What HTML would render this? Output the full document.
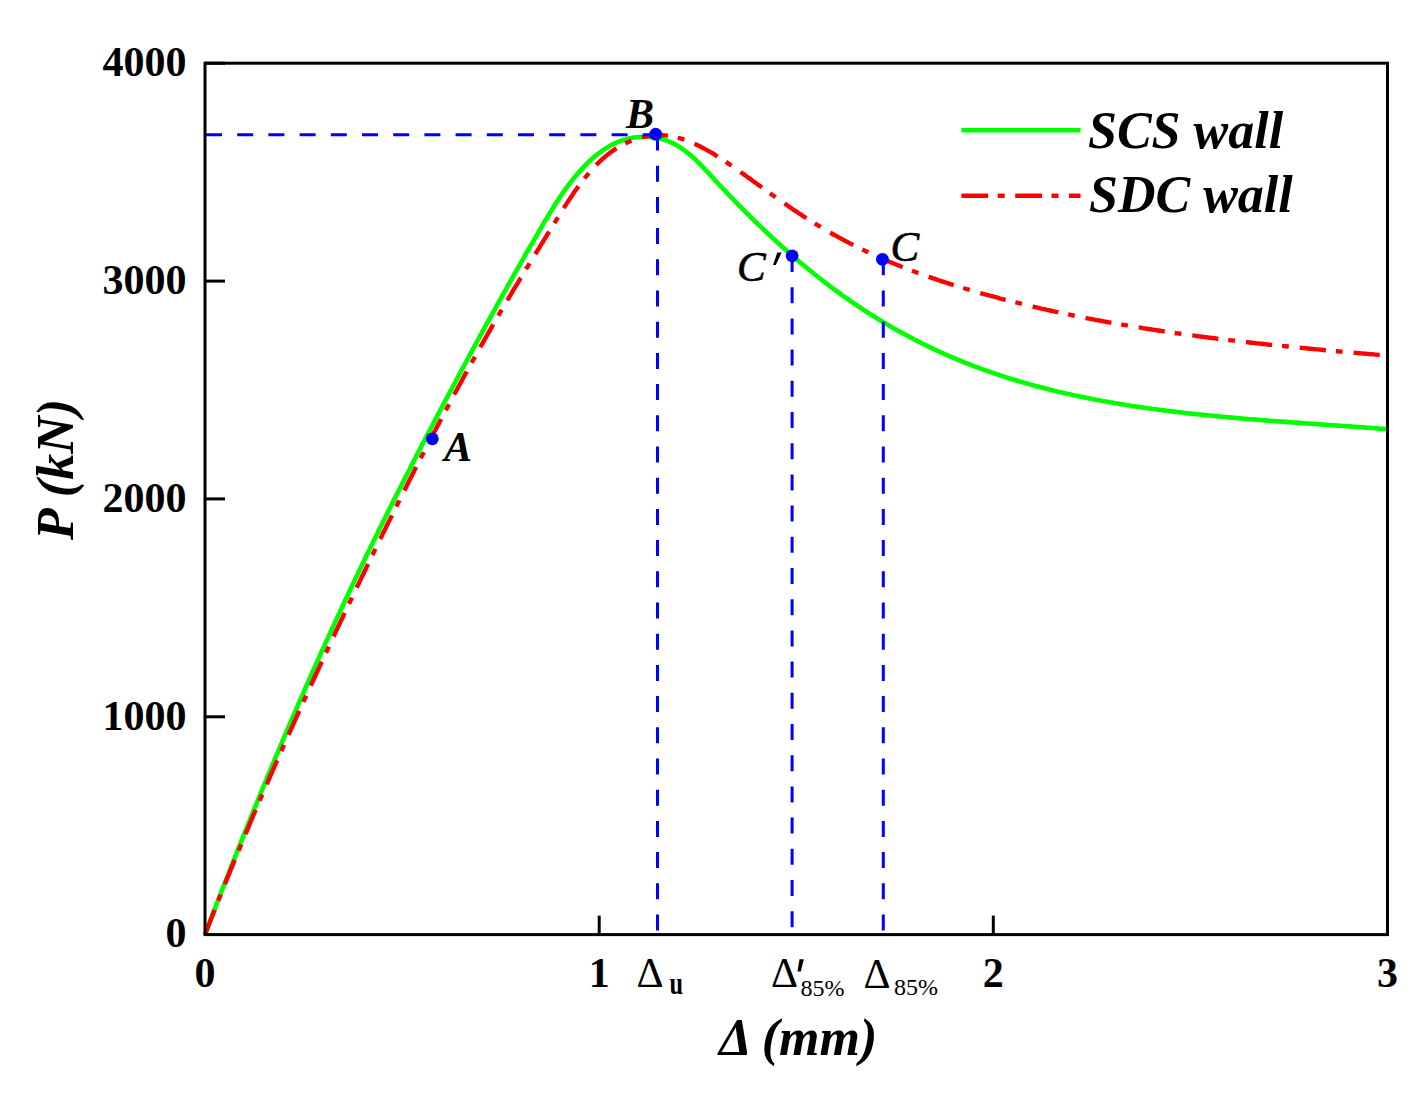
<!DOCTYPE html>
<html><head><meta charset="utf-8"><style>
html,body{margin:0;padding:0;background:#fff;}
svg{display:block;}
text{font-family:"Liberation Serif",serif;}
</style></head><body>
<svg width="1420" height="1094" viewBox="0 0 1420 1094">
<rect width="1420" height="1094" fill="#fff"/>

<path d="M205.0,934.5L205.7,932.6 206.4,930.8 207.1,928.9 207.8,927.0 208.6,925.1 209.3,923.3 210.0,921.4 210.7,919.5 211.4,917.6 212.1,915.8 212.9,913.9 213.6,912.0 214.3,910.1 215.0,908.3 215.7,906.4 216.5,904.5 217.2,902.7 217.9,900.8 218.6,898.9 219.3,897.1 220.1,895.2 220.8,893.3 221.5,891.4 222.2,889.6 223.0,887.7 223.7,885.8 224.4,884.0 225.2,882.1 225.9,880.2 226.6,878.4 227.3,876.5 228.1,874.6 228.8,872.8 229.5,870.9 230.3,869.0 231.0,867.2 231.7,865.3 232.5,863.4 233.2,861.6 233.9,859.7 234.7,857.8 235.4,856.0 236.2,854.1 236.9,852.3 237.6,850.4 238.4,848.5 239.1,846.7 239.9,844.8 240.6,842.9 241.3,841.1 242.1,839.2 242.8,837.4 243.6,835.5 244.3,833.6 245.1,831.8 245.8,829.9 246.6,828.1 247.3,826.2 248.1,824.3 248.8,822.5 249.6,820.6 250.3,818.8 251.1,816.9 251.8,815.1 252.6,813.2 253.3,811.3 254.1,809.5 254.8,807.6 255.6,805.8 256.4,803.9 257.1,802.1 257.9,800.2 258.6,798.3 259.4,796.5 260.2,794.6 260.9,792.8 261.7,790.9 262.4,789.1 263.2,787.2 264.0,785.4 264.7,783.5 265.5,781.7 266.3,779.8 267.0,778.0 267.8,776.1 268.6,774.3 269.3,772.4 270.1,770.6 270.9,768.7 271.7,766.9 272.4,765.0 273.2,763.2 274.0,761.3 274.8,759.5 275.5,757.6 276.3,755.8 277.1,753.9 277.9,752.1 278.6,750.2 279.4,748.4 280.2,746.6 281.0,744.7 281.8,742.9 282.6,741.0 283.3,739.2 284.1,737.3 284.9,735.5 285.7,733.6 286.5,731.8 287.3,730.0 288.1,728.1 288.9,726.3 289.6,724.4 290.4,722.6 291.2,720.8 292.0,718.9 292.8,717.1 293.6,715.2 294.4,713.4 295.2,711.6 296.0,709.7 296.8,707.9 297.6,706.0 298.4,704.2 299.2,702.4 300.0,700.5 300.8,698.7 301.6,696.9 302.4,695.0 303.2,693.2 304.0,691.4 304.8,689.5 305.6,687.7 306.4,685.8 307.2,684.0 308.1,682.2 308.9,680.3 309.7,678.5 310.5,676.7 311.3,674.9 312.1,673.0 312.9,671.2 313.7,669.4 314.6,667.5 315.4,665.7 316.2,663.9 317.0,662.0 317.8,660.2 318.7,658.4 319.5,656.6 320.3,654.7 321.1,652.9 321.9,651.1 322.8,649.3 323.6,647.4 324.4,645.6 325.2,643.8 326.1,641.9 326.9,640.1 327.7,638.3 328.6,636.5 329.4,634.7 330.2,632.8 331.1,631.0 331.9,629.2 332.7,627.4 333.6,625.5 334.4,623.7 335.2,621.9 336.1,620.1 336.9,618.3 337.8,616.4 338.6,614.6 339.5,612.8 340.3,611.0 341.1,609.2 342.0,607.4 342.8,605.5 343.7,603.7 344.5,601.9 345.4,600.1 346.2,598.3 347.1,596.5 347.9,594.6 348.8,592.8 349.6,591.0 350.5,589.2 351.4,587.4 352.2,585.6 353.1,583.8 353.9,582.0 354.8,580.1 355.6,578.3 356.5,576.5 357.4,574.7 358.2,572.9 359.1,571.1 360.0,569.3 360.8,567.5 361.7,565.7 362.6,563.9 363.4,562.1 364.3,560.2 365.2,558.4 366.0,556.6 366.9,554.8 367.8,553.0 368.7,551.2 369.5,549.4 370.4,547.6 371.3,545.8 372.2,544.0 373.1,542.2 373.9,540.4 374.8,538.6 375.7,536.8 376.6,535.0 377.5,533.2 378.4,531.4 379.2,529.6 380.1,527.8 381.0,526.0 381.9,524.2 382.8,522.4 383.7,520.6 384.6,518.8 385.5,517.0 386.4,515.2 387.3,513.4 388.1,511.6 389.0,509.8 389.9,508.0 390.8,506.3 391.7,504.5 392.6,502.7 393.5,500.9 394.4,499.1 395.3,497.3 396.2,495.5 397.1,493.7 398.0,491.9 399.0,490.1 399.9,488.3 400.8,486.6 401.7,484.8 402.6,483.0 403.5,481.2 404.4,479.4 405.3,477.6 406.2,475.8 407.1,474.0 408.0,472.3 409.0,470.5 409.9,468.7 410.8,466.9 411.7,465.1 412.6,463.3 413.5,461.5 414.5,459.8 415.4,458.0 416.3,456.2 417.2,454.4 418.1,452.6 419.0,450.9 420.0,449.1 420.9,447.3 421.8,445.5 422.7,443.7 423.7,442.0 424.6,440.2 425.5,438.4 426.4,436.6 427.4,434.8 428.3,433.1 429.2,431.3 430.2,429.5 431.1,427.7 432.0,426.0 432.9,424.2 433.9,422.4 434.8,420.6 435.7,418.9 436.7,417.1 437.6,415.3 438.5,413.5 439.5,411.8 440.4,410.0 441.3,408.2 442.3,406.4 443.2,404.7 444.2,402.9 445.1,401.1 446.0,399.4 447.0,397.6 447.9,395.8 448.8,394.1 449.8,392.3 450.7,390.5 451.7,388.8 452.6,387.0 453.6,385.2 454.5,383.5 455.4,381.7 456.4,379.9 457.3,378.2 458.3,376.4 459.2,374.6 460.2,372.9 461.1,371.1 462.1,369.3 463.0,367.6 464.0,365.8 464.9,364.0 465.9,362.3 466.8,360.5 467.8,358.8 468.7,357.0 469.7,355.2 470.6,353.5 471.6,351.7 472.5,350.0 473.5,348.2 474.4,346.4 475.4,344.7 476.3,342.9 477.3,341.2 478.2,339.4 479.2,337.7 480.1,335.9 481.1,334.1 482.1,332.4 483.0,330.6 484.0,328.9 484.9,327.1 485.9,325.4 486.9,323.6 487.8,321.9 488.8,320.1 489.8,318.3 490.7,316.6 491.7,314.8 492.7,313.1 493.6,311.3 494.6,309.6 495.6,307.8 496.5,306.1 497.5,304.3 498.5,302.6 499.4,300.8 500.4,299.1 501.4,297.3 502.4,295.6 503.3,293.8 504.3,292.1 505.3,290.3 506.3,288.6 507.3,286.8 508.2,285.1 509.2,283.4 510.2,281.6 511.2,279.9 512.2,278.1 513.2,276.4 514.1,274.6 515.1,272.9 516.1,271.1 517.1,269.4 518.1,267.7 519.1,265.9 520.1,264.2 521.1,262.4 522.1,260.7 523.1,258.9 524.1,257.2 525.0,255.5 526.0,253.7 527.0,252.0 528.0,250.2 529.0,248.5 530.0,246.8 531.1,245.0 532.1,243.3 533.1,241.5 534.1,239.8 535.1,238.1 536.1,236.3 537.1,234.6 538.1,232.9 539.1,231.1 540.1,229.4 541.2,227.6 542.2,225.9 543.2,224.2 544.2,222.4 545.2,220.7 546.3,219.0 547.3,217.3 548.3,215.5 549.4,213.8 550.4,212.1 551.5,210.4 552.5,208.7 553.6,207.0 554.6,205.3 555.7,203.6 556.8,201.9 557.9,200.2 559.0,198.5 560.1,196.8 561.3,195.2 562.4,193.5 563.5,191.9 564.7,190.2 565.9,188.6 567.0,187.0 568.2,185.4 569.5,183.8 570.7,182.2 571.9,180.6 573.2,179.0 574.4,177.5 575.7,175.9 577.0,174.4 578.3,172.9 579.7,171.4 581.0,169.9 582.4,168.4 583.8,166.9 585.2,165.5 586.6,164.0 588.1,162.6 589.5,161.2 591.0,159.8 592.5,158.5 594.1,157.1 595.6,155.8 597.2,154.5 598.8,153.3 600.4,152.0 602.1,150.9 603.7,149.7 605.4,148.6 607.1,147.5 608.8,146.5 610.6,145.5 612.3,144.6 614.1,143.7 615.9,142.8 617.8,142.0 619.6,141.3 621.5,140.6 623.4,140.0 625.3,139.4 627.2,138.9 629.2,138.4 631.1,138.0 633.1,137.7 635.0,137.4 637.0,137.2 639.0,137.0 641.0,136.9 642.9,136.8 644.9,136.8 646.9,136.8 648.9,136.9 650.8,137.1 652.8,137.3 654.7,137.6 656.7,137.9 658.6,138.3 660.5,138.7 662.4,139.2 664.2,139.8 666.1,140.4 667.9,141.1 669.7,141.8 671.5,142.6 673.2,143.4 674.9,144.3 676.6,145.3 678.3,146.3 679.9,147.3 681.6,148.4 683.2,149.5 684.8,150.7 686.3,151.9 687.9,153.1 689.4,154.4 691.0,155.7 692.5,157.0 694.0,158.3 695.5,159.7 696.9,161.1 698.4,162.5 699.8,164.0 701.3,165.4 702.7,166.9 704.1,168.4 705.6,169.9 707.0,171.4 708.4,172.9 709.8,174.4 711.2,175.9 712.6,177.5 714.0,179.0 715.3,180.5 716.7,182.0 718.1,183.5 719.5,185.0 720.9,186.5 722.3,188.0 723.7,189.4 725.1,190.9 726.5,192.4 727.8,193.8 729.2,195.3 730.6,196.7 732.0,198.2 733.4,199.6 734.8,201.0 736.2,202.5 737.6,203.9 739.0,205.3 740.4,206.7 741.8,208.2 743.2,209.6 744.6,211.0 746.0,212.4 747.4,213.8 748.9,215.2 750.3,216.6 751.7,218.0 753.1,219.4 754.5,220.8 756.0,222.2 757.4,223.6 758.8,224.9 760.3,226.3 761.7,227.7 763.1,229.1 764.6,230.4 766.0,231.8 767.5,233.2 768.9,234.5 770.4,235.9 771.8,237.3 773.3,238.6 774.8,240.0 776.2,241.3 777.7,242.6 779.2,244.0 780.7,245.3 782.1,246.7 783.6,248.0 785.1,249.3 786.6,250.6 788.1,252.0 789.6,253.3 791.1,254.6 792.6,255.9 794.1,257.2 795.6,258.5 797.1,259.8 798.6,261.1 800.2,262.4 801.7,263.7 803.2,264.9 804.8,266.2 806.3,267.5 807.8,268.8 809.4,270.0 810.9,271.3 812.5,272.5 814.0,273.8 815.6,275.0 817.2,276.3 818.7,277.5 820.3,278.8 821.9,280.0 823.4,281.2 825.0,282.4 826.6,283.7 828.2,284.9 829.8,286.1 831.4,287.3 833.0,288.5 834.6,289.7 836.2,290.9 837.9,292.0 839.5,293.2 841.1,294.4 842.7,295.6 844.4,296.7 846.0,297.9 847.7,299.0 849.3,300.2 851.0,301.3 852.6,302.5 854.3,303.6 856.0,304.7 857.6,305.9 859.3,307.0 861.0,308.1 862.7,309.2 864.4,310.3 866.0,311.4 867.7,312.5 869.4,313.6 871.1,314.7 872.8,315.7 874.6,316.8 876.3,317.9 878.0,318.9 879.7,320.0 881.4,321.0 883.2,322.1 884.9,323.1 886.6,324.1 888.4,325.1 890.1,326.2 891.9,327.2 893.6,328.2 895.4,329.2 897.1,330.2 898.9,331.1 900.6,332.1 902.4,333.1 904.2,334.1 905.9,335.0 907.7,336.0 909.5,336.9 911.3,337.9 913.1,338.8 914.8,339.7 916.6,340.6 918.4,341.6 920.2,342.5 922.0,343.4 923.8,344.3 925.6,345.2 927.4,346.0 929.2,346.9 931.0,347.8 932.9,348.6 934.7,349.5 936.5,350.3 938.3,351.2 940.1,352.0 942.0,352.8 943.8,353.7 945.6,354.5 947.5,355.3 949.3,356.1 951.1,356.9 953.0,357.6 954.8,358.4 956.6,359.2 958.5,360.0 960.3,360.7 962.2,361.5 964.0,362.2 965.9,363.0 967.8,363.7 969.6,364.4 971.5,365.1 973.3,365.8 975.2,366.6 977.1,367.3 978.9,367.9 980.8,368.6 982.7,369.3 984.6,370.0 986.4,370.7 988.3,371.3 990.2,372.0 992.1,372.6 994.0,373.3 995.8,373.9 997.7,374.5 999.6,375.2 1001.5,375.8 1003.4,376.4 1005.3,377.0 1007.2,377.6 1009.1,378.2 1011.0,378.8 1012.9,379.4 1014.8,380.0 1016.7,380.5 1018.6,381.1 1020.5,381.7 1022.5,382.2 1024.4,382.8 1026.3,383.3 1028.2,383.9 1030.1,384.4 1032.0,384.9 1034.0,385.5 1035.9,386.0 1037.8,386.5 1039.7,387.0 1041.7,387.5 1043.6,388.0 1045.5,388.5 1047.5,389.0 1049.4,389.5 1051.3,390.0 1053.3,390.5 1055.2,390.9 1057.1,391.4 1059.1,391.9 1061.0,392.3 1063.0,392.8 1064.9,393.2 1066.9,393.7 1068.8,394.1 1070.8,394.5 1072.7,395.0 1074.7,395.4 1076.6,395.8 1078.6,396.2 1080.5,396.6 1082.5,397.0 1084.4,397.4 1086.4,397.8 1088.4,398.2 1090.3,398.6 1092.3,399.0 1094.3,399.4 1096.2,399.8 1098.2,400.1 1100.2,400.5 1102.1,400.9 1104.1,401.2 1106.1,401.6 1108.0,401.9 1110.0,402.3 1112.0,402.6 1114.0,403.0 1115.9,403.3 1117.9,403.6 1119.9,404.0 1121.9,404.3 1123.8,404.6 1125.8,404.9 1127.8,405.2 1129.8,405.6 1131.8,405.9 1133.8,406.2 1135.7,406.5 1137.7,406.8 1139.7,407.1 1141.7,407.4 1143.7,407.6 1145.7,407.9 1147.7,408.2 1149.7,408.5 1151.7,408.8 1153.6,409.0 1155.6,409.3 1157.6,409.6 1159.6,409.8 1161.6,410.1 1163.6,410.4 1165.6,410.6 1167.6,410.9 1169.6,411.1 1171.6,411.4 1173.6,411.6 1175.6,411.8 1177.6,412.1 1179.6,412.3 1181.6,412.5 1183.6,412.8 1185.6,413.0 1187.6,413.2 1189.6,413.4 1191.6,413.7 1193.6,413.9 1195.6,414.1 1197.6,414.3 1199.6,414.5 1201.6,414.7 1203.6,414.9 1205.6,415.1 1207.6,415.3 1209.6,415.5 1211.7,415.7 1213.7,415.9 1215.7,416.1 1217.7,416.3 1219.7,416.5 1221.7,416.7 1223.7,416.9 1225.7,417.1 1227.7,417.3 1229.7,417.4 1231.7,417.6 1233.7,417.8 1235.7,418.0 1237.7,418.1 1239.8,418.3 1241.8,418.5 1243.8,418.7 1245.8,418.8 1247.8,419.0 1249.8,419.2 1251.8,419.3 1253.8,419.5 1255.8,419.6 1257.8,419.8 1259.8,420.0 1261.8,420.1 1263.9,420.3 1265.9,420.4 1267.9,420.6 1269.9,420.7 1271.9,420.9 1273.9,421.0 1275.9,421.2 1277.9,421.3 1279.9,421.5 1281.9,421.6 1283.9,421.8 1285.9,421.9 1287.9,422.1 1289.9,422.2 1291.9,422.4 1293.9,422.5 1296.0,422.6 1298.0,422.8 1300.0,422.9 1302.0,423.1 1304.0,423.2 1306.0,423.4 1308.0,423.5 1310.0,423.6 1312.0,423.8 1314.0,423.9 1316.0,424.0 1318.0,424.2 1320.0,424.3 1322.0,424.5 1324.0,424.6 1326.0,424.7 1328.0,424.9 1330.0,425.0 1331.9,425.2 1333.9,425.3 1335.9,425.4 1337.9,425.6 1339.9,425.7 1341.9,425.9 1343.9,426.0 1345.9,426.1 1347.9,426.3 1349.9,426.4 1351.9,426.6 1353.8,426.7 1355.8,426.8 1357.8,427.0 1359.8,427.1 1361.8,427.3 1363.8,427.4 1365.8,427.6 1367.7,427.7 1369.7,427.8 1371.7,428.0 1373.7,428.1 1375.7,428.3 1377.6,428.4 1379.6,428.6 1381.6,428.7 1383.6,428.9 1385.5,429.0 1387.5,429.2" fill="none" stroke="#00ff00" stroke-width="4.6"/>
<path d="M205.0,934.5L205.7,932.6 206.4,930.8 207.2,928.9 207.9,927.0 208.6,925.2 209.4,923.3 210.1,921.4 210.8,919.6 211.5,917.7 212.3,915.8 213.0,914.0 213.7,912.1 214.5,910.2 215.2,908.4 216.0,906.5 216.7,904.7 217.4,902.8 218.2,900.9 218.9,899.1 219.7,897.2 220.4,895.4 221.1,893.5 221.9,891.6 222.6,889.8 223.4,887.9 224.1,886.1 224.9,884.2 225.6,882.3 226.4,880.5 227.1,878.6 227.9,876.8 228.6,874.9 229.4,873.1 230.1,871.2 230.9,869.3 231.7,867.5 232.4,865.6 233.2,863.8 233.9,861.9 234.7,860.1 235.5,858.2 236.2,856.4 237.0,854.5 237.8,852.7 238.5,850.8 239.3,849.0 240.1,847.1 240.8,845.3 241.6,843.4 242.4,841.6 243.1,839.7 243.9,837.9 244.7,836.0 245.5,834.2 246.2,832.3 247.0,830.5 247.8,828.6 248.6,826.8 249.3,824.9 250.1,823.1 250.9,821.2 251.7,819.4 252.5,817.5 253.2,815.7 254.0,813.9 254.8,812.0 255.6,810.2 256.4,808.3 257.2,806.5 258.0,804.6 258.8,802.8 259.5,801.0 260.3,799.1 261.1,797.3 261.9,795.4 262.7,793.6 263.5,791.8 264.3,789.9 265.1,788.1 265.9,786.2 266.7,784.4 267.5,782.6 268.3,780.7 269.1,778.9 269.9,777.0 270.7,775.2 271.5,773.4 272.3,771.5 273.1,769.7 273.9,767.9 274.7,766.0 275.5,764.2 276.3,762.4 277.1,760.5 277.9,758.7 278.7,756.8 279.5,755.0 280.3,753.2 281.2,751.3 282.0,749.5 282.8,747.7 283.6,745.9 284.4,744.0 285.2,742.2 286.0,740.4 286.8,738.5 287.7,736.7 288.5,734.9 289.3,733.0 290.1,731.2 290.9,729.4 291.8,727.5 292.6,725.7 293.4,723.9 294.2,722.1 295.0,720.2 295.9,718.4 296.7,716.6 297.5,714.8 298.3,712.9 299.2,711.1 300.0,709.3 300.8,707.5 301.6,705.6 302.5,703.8 303.3,702.0 304.1,700.2 305.0,698.3 305.8,696.5 306.6,694.7 307.5,692.9 308.3,691.0 309.1,689.2 310.0,687.4 310.8,685.6 311.6,683.7 312.5,681.9 313.3,680.1 314.1,678.3 315.0,676.5 315.8,674.6 316.7,672.8 317.5,671.0 318.3,669.2 319.2,667.4 320.0,665.5 320.9,663.7 321.7,661.9 322.6,660.1 323.4,658.3 324.2,656.5 325.1,654.6 325.9,652.8 326.8,651.0 327.6,649.2 328.5,647.4 329.3,645.6 330.2,643.7 331.0,641.9 331.9,640.1 332.7,638.3 333.6,636.5 334.4,634.7 335.3,632.9 336.1,631.0 337.0,629.2 337.8,627.4 338.7,625.6 339.5,623.8 340.4,622.0 341.2,620.2 342.1,618.4 343.0,616.6 343.8,614.7 344.7,612.9 345.5,611.1 346.4,609.3 347.2,607.5 348.1,605.7 349.0,603.9 349.8,602.1 350.7,600.3 351.5,598.5 352.4,596.7 353.3,594.8 354.1,593.0 355.0,591.2 355.9,589.4 356.7,587.6 357.6,585.8 358.5,584.0 359.3,582.2 360.2,580.4 361.1,578.6 361.9,576.8 362.8,575.0 363.7,573.2 364.5,571.4 365.4,569.6 366.3,567.8 367.1,566.0 368.0,564.2 368.9,562.4 369.7,560.6 370.6,558.8 371.5,557.0 372.4,555.2 373.2,553.4 374.1,551.5 375.0,549.7 375.9,547.9 376.7,546.2 377.6,544.4 378.5,542.6 379.4,540.8 380.3,539.0 381.1,537.2 382.0,535.4 382.9,533.6 383.8,531.8 384.7,530.0 385.6,528.2 386.4,526.4 387.3,524.6 388.2,522.8 389.1,521.0 390.0,519.2 390.9,517.4 391.8,515.6 392.6,513.8 393.5,512.0 394.4,510.2 395.3,508.4 396.2,506.6 397.1,504.9 398.0,503.1 398.9,501.3 399.8,499.5 400.7,497.7 401.6,495.9 402.5,494.1 403.4,492.3 404.3,490.5 405.2,488.7 406.1,487.0 407.0,485.2 407.9,483.4 408.8,481.6 409.7,479.8 410.6,478.0 411.5,476.2 412.4,474.4 413.3,472.7 414.2,470.9 415.1,469.1 416.0,467.3 416.9,465.5 417.9,463.7 418.8,462.0 419.7,460.2 420.6,458.4 421.5,456.6 422.4,454.8 423.4,453.1 424.3,451.3 425.2,449.5 426.1,447.7 427.0,445.9 428.0,444.2 428.9,442.4 429.8,440.6 430.7,438.8 431.7,437.1 432.6,435.3 433.5,433.5 434.4,431.7 435.4,430.0 436.3,428.2 437.2,426.4 438.2,424.6 439.1,422.9 440.0,421.1 441.0,419.3 441.9,417.5 442.8,415.8 443.8,414.0 444.7,412.2 445.7,410.5 446.6,408.7 447.6,406.9 448.5,405.2 449.4,403.4 450.4,401.6 451.3,399.8 452.3,398.1 453.2,396.3 454.2,394.5 455.2,392.8 456.1,391.0 457.1,389.3 458.0,387.5 459.0,385.7 459.9,384.0 460.9,382.2 461.9,380.4 462.8,378.7 463.8,376.9 464.7,375.2 465.7,373.4 466.7,371.6 467.6,369.9 468.6,368.1 469.6,366.4 470.6,364.6 471.5,362.9 472.5,361.1 473.5,359.3 474.5,357.6 475.4,355.8 476.4,354.1 477.4,352.3 478.4,350.6 479.4,348.8 480.3,347.1 481.3,345.3 482.3,343.6 483.3,341.8 484.3,340.1 485.3,338.3 486.3,336.6 487.3,334.8 488.3,333.1 489.3,331.3 490.3,329.6 491.2,327.9 492.2,326.1 493.2,324.4 494.2,322.7 495.2,320.9 496.2,319.2 497.2,317.5 498.2,315.8 499.2,314.0 500.2,312.3 501.2,310.6 502.2,308.9 503.2,307.2 504.3,305.5 505.3,303.8 506.3,302.1 507.3,300.4 508.3,298.7 509.3,297.0 510.3,295.3 511.3,293.6 512.3,291.9 513.3,290.2 514.3,288.5 515.3,286.9 516.3,285.2 517.4,283.5 518.4,281.8 519.4,280.1 520.4,278.4 521.4,276.8 522.5,275.1 523.5,273.4 524.5,271.7 525.5,270.0 526.5,268.3 527.6,266.7 528.6,265.0 529.6,263.3 530.7,261.6 531.7,259.9 532.7,258.2 533.8,256.5 534.8,254.9 535.8,253.2 536.9,251.5 537.9,249.8 539.0,248.1 540.0,246.4 541.1,244.7 542.1,243.0 543.2,241.3 544.2,239.6 545.3,237.9 546.3,236.1 547.4,234.4 548.5,232.7 549.5,231.0 550.6,229.3 551.7,227.5 552.7,225.8 553.8,224.1 554.9,222.3 556.0,220.6 557.0,218.9 558.1,217.1 559.2,215.4 560.3,213.6 561.4,211.9 562.5,210.1 563.6,208.4 564.7,206.6 565.8,204.9 566.9,203.1 568.1,201.4 569.2,199.6 570.4,197.9 571.5,196.2 572.7,194.5 573.8,192.8 575.0,191.1 576.2,189.4 577.4,187.7 578.6,186.1 579.8,184.4 581.0,182.8 582.3,181.1 583.5,179.5 584.8,177.9 586.1,176.4 587.4,174.8 588.7,173.3 590.0,171.7 591.3,170.2 592.6,168.7 594.0,167.3 595.4,165.8 596.8,164.4 598.2,163.0 599.6,161.6 601.0,160.3 602.5,159.0 604.0,157.7 605.5,156.4 607.0,155.1 608.5,153.9 610.1,152.7 611.6,151.6 613.2,150.5 614.8,149.4 616.5,148.3 618.1,147.3 619.8,146.3 621.5,145.4 623.2,144.4 625.0,143.6 626.7,142.7 628.5,141.9 630.3,141.1 632.2,140.4 634.0,139.7 635.9,139.1 637.8,138.5 639.7,137.9 641.6,137.4 643.6,137.0 645.5,136.5 647.5,136.2 649.4,135.9 651.4,135.6 653.4,135.4 655.4,135.3 657.4,135.2 659.4,135.1 661.4,135.2 663.3,135.3 665.3,135.4 667.3,135.6 669.3,135.9 671.2,136.2 673.2,136.6 675.2,137.0 677.1,137.5 679.0,138.0 681.0,138.6 682.9,139.2 684.8,139.9 686.7,140.5 688.6,141.3 690.5,142.1 692.4,142.9 694.3,143.7 696.1,144.5 698.0,145.4 699.8,146.3 701.6,147.3 703.4,148.2 705.2,149.2 707.0,150.2 708.8,151.2 710.5,152.2 712.3,153.2 714.0,154.2 715.7,155.3 717.4,156.3 719.1,157.4 720.8,158.5 722.5,159.6 724.2,160.7 725.9,161.8 727.5,162.9 729.2,164.1 730.8,165.2 732.5,166.3 734.1,167.5 735.8,168.6 737.4,169.8 739.0,170.9 740.6,172.1 742.3,173.3 743.9,174.4 745.5,175.6 747.1,176.8 748.7,177.9 750.4,179.1 752.0,180.3 753.6,181.5 755.2,182.6 756.8,183.8 758.4,185.0 760.1,186.1 761.7,187.3 763.3,188.5 764.9,189.7 766.6,190.8 768.2,192.0 769.8,193.1 771.4,194.3 773.1,195.5 774.7,196.6 776.3,197.8 778.0,198.9 779.6,200.1 781.2,201.2 782.9,202.4 784.5,203.5 786.2,204.6 787.8,205.8 789.4,206.9 791.1,208.0 792.8,209.2 794.4,210.3 796.1,211.4 797.7,212.5 799.4,213.6 801.1,214.7 802.7,215.8 804.4,216.9 806.1,218.0 807.8,219.0 809.5,220.1 811.2,221.2 812.9,222.3 814.6,223.3 816.3,224.4 818.0,225.4 819.7,226.4 821.4,227.5 823.1,228.5 824.9,229.5 826.6,230.5 828.3,231.5 830.1,232.5 831.8,233.5 833.5,234.5 835.3,235.5 837.1,236.4 838.8,237.4 840.6,238.4 842.3,239.3 844.1,240.3 845.9,241.2 847.7,242.1 849.4,243.1 851.2,244.0 853.0,244.9 854.8,245.8 856.6,246.7 858.4,247.6 860.2,248.5 862.0,249.3 863.8,250.2 865.6,251.1 867.4,251.9 869.2,252.8 871.0,253.6 872.9,254.5 874.7,255.3 876.5,256.1 878.3,256.9 880.2,257.8 882.0,258.6 883.8,259.4 885.7,260.1 887.5,260.9 889.4,261.7 891.2,262.5 893.1,263.3 894.9,264.0 896.8,264.8 898.6,265.5 900.5,266.3 902.3,267.0 904.2,267.7 906.1,268.5 907.9,269.2 909.8,269.9 911.7,270.6 913.6,271.3 915.4,272.0 917.3,272.7 919.2,273.4 921.1,274.1 923.0,274.8 924.8,275.4 926.7,276.1 928.6,276.8 930.5,277.4 932.4,278.1 934.3,278.7 936.2,279.4 938.1,280.0 940.0,280.7 941.9,281.3 943.8,281.9 945.7,282.5 947.6,283.1 949.5,283.8 951.4,284.4 953.3,285.0 955.2,285.6 957.2,286.2 959.1,286.8 961.0,287.3 962.9,287.9 964.8,288.5 966.7,289.1 968.7,289.6 970.6,290.2 972.5,290.8 974.4,291.3 976.4,291.9 978.3,292.4 980.2,293.0 982.1,293.5 984.1,294.1 986.0,294.6 987.9,295.1 989.9,295.7 991.8,296.2 993.7,296.7 995.7,297.2 997.6,297.7 999.5,298.3 1001.5,298.8 1003.4,299.3 1005.4,299.8 1007.3,300.3 1009.2,300.8 1011.2,301.3 1013.1,301.8 1015.1,302.3 1017.0,302.7 1019.0,303.2 1020.9,303.7 1022.8,304.2 1024.8,304.7 1026.7,305.1 1028.7,305.6 1030.6,306.1 1032.6,306.5 1034.5,307.0 1036.5,307.4 1038.4,307.9 1040.4,308.3 1042.3,308.8 1044.3,309.2 1046.2,309.7 1048.2,310.1 1050.1,310.5 1052.1,311.0 1054.0,311.4 1056.0,311.8 1058.0,312.2 1059.9,312.7 1061.9,313.1 1063.8,313.5 1065.8,313.9 1067.8,314.3 1069.7,314.7 1071.7,315.1 1073.6,315.5 1075.6,315.9 1077.6,316.3 1079.5,316.7 1081.5,317.1 1083.5,317.5 1085.4,317.9 1087.4,318.3 1089.3,318.7 1091.3,319.0 1093.3,319.4 1095.2,319.8 1097.2,320.2 1099.2,320.5 1101.2,320.9 1103.1,321.3 1105.1,321.6 1107.1,322.0 1109.0,322.3 1111.0,322.7 1113.0,323.0 1114.9,323.4 1116.9,323.7 1118.9,324.1 1120.9,324.4 1122.8,324.8 1124.8,325.1 1126.8,325.4 1128.8,325.8 1130.7,326.1 1132.7,326.4 1134.7,326.8 1136.7,327.1 1138.7,327.4 1140.6,327.7 1142.6,328.1 1144.6,328.4 1146.6,328.7 1148.5,329.0 1150.5,329.3 1152.5,329.6 1154.5,329.9 1156.5,330.2 1158.4,330.5 1160.4,330.8 1162.4,331.1 1164.4,331.4 1166.4,331.7 1168.4,332.0 1170.3,332.3 1172.3,332.6 1174.3,332.9 1176.3,333.2 1178.3,333.4 1180.3,333.7 1182.3,334.0 1184.2,334.3 1186.2,334.6 1188.2,334.8 1190.2,335.1 1192.2,335.4 1194.2,335.6 1196.2,335.9 1198.1,336.2 1200.1,336.4 1202.1,336.7 1204.1,336.9 1206.1,337.2 1208.1,337.5 1210.1,337.7 1212.1,338.0 1214.1,338.2 1216.0,338.5 1218.0,338.7 1220.0,339.0 1222.0,339.2 1224.0,339.5 1226.0,339.7 1228.0,339.9 1230.0,340.2 1232.0,340.4 1234.0,340.6 1236.0,340.9 1238.0,341.1 1239.9,341.3 1241.9,341.6 1243.9,341.8 1245.9,342.0 1247.9,342.3 1249.9,342.5 1251.9,342.7 1253.9,342.9 1255.9,343.2 1257.9,343.4 1259.9,343.6 1261.9,343.8 1263.9,344.0 1265.9,344.2 1267.8,344.5 1269.8,344.7 1271.8,344.9 1273.8,345.1 1275.8,345.3 1277.8,345.5 1279.8,345.7 1281.8,345.9 1283.8,346.1 1285.8,346.3 1287.8,346.5 1289.8,346.7 1291.8,346.9 1293.8,347.1 1295.8,347.3 1297.8,347.5 1299.8,347.7 1301.8,347.9 1303.8,348.1 1305.8,348.3 1307.7,348.5 1309.7,348.7 1311.7,348.9 1313.7,349.1 1315.7,349.3 1317.7,349.4 1319.7,349.6 1321.7,349.8 1323.7,350.0 1325.7,350.2 1327.7,350.4 1329.7,350.5 1331.7,350.7 1333.7,350.9 1335.7,351.1 1337.7,351.3 1339.7,351.5 1341.7,351.6 1343.7,351.8 1345.6,352.0 1347.6,352.2 1349.6,352.3 1351.6,352.5 1353.6,352.7 1355.6,352.9 1357.6,353.0 1359.6,353.2 1361.6,353.4 1363.6,353.6 1365.6,353.7 1367.6,353.9 1369.6,354.1 1371.6,354.2 1373.6,354.4 1375.5,354.6 1377.5,354.8 1379.5,354.9 1381.5,355.1 1383.5,355.3 1385.5,355.4 1387.5,355.6" fill="none" stroke="#ff0000" stroke-width="4.4" stroke-dasharray="26.3 10 6.8 11"/>
<g stroke="#0000ff" stroke-width="3" stroke-dasharray="16 15.2" fill="none">
<line x1="206" y1="134.7" x2="655.7" y2="134.7"/>
<line x1="657.5" y1="134.5" x2="657.5" y2="934"/>
<line x1="792.1" y1="256" x2="792.1" y2="934"/>
<line x1="883.3" y1="259.3" x2="883.3" y2="934"/>
</g>
<g fill="#0000ff">
<circle cx="432.3" cy="438.8" r="6.4"/>
<circle cx="655.7" cy="134.2" r="6.4"/>
<circle cx="792.1" cy="255.8" r="6.4"/>
<circle cx="882.4" cy="259.3" r="6.4"/>
</g>
<rect x="205" y="63.2" width="1182.5" height="871.4" fill="none" stroke="#000" stroke-width="3"/>
<g stroke="#000" stroke-width="3"><line x1="599.2" y1="934.6" x2="599.2" y2="915.6"/><line x1="993.3" y1="934.6" x2="993.3" y2="915.6"/><line x1="1387.5" y1="934.6" x2="1387.5" y2="915.6"/><line x1="205.0" y1="716.8" x2="225.0" y2="716.8"/><line x1="205.0" y1="498.9" x2="225.0" y2="498.9"/><line x1="205.0" y1="281.1" x2="225.0" y2="281.1"/><line x1="205.0" y1="63.2" x2="225.0" y2="63.2"/></g>
<g font-size="42" font-weight="bold" fill="#000"><text x="186.5" y="947.4" text-anchor="end">0</text><text x="186.5" y="729.5" text-anchor="end">1000</text><text x="186.5" y="511.7" text-anchor="end">2000</text><text x="186.5" y="293.9" text-anchor="end">3000</text><text x="186.5" y="76.0" text-anchor="end">4000</text><text x="205.0" y="987" text-anchor="middle">0</text><text x="599.2" y="987" text-anchor="middle">1</text><text x="993.3" y="987" text-anchor="middle">2</text><text x="1387.5" y="987" text-anchor="middle">3</text></g>
<g font-size="42" font-weight="bold" font-style="italic" fill="#000">
<text x="444" y="461">A</text>
<text x="626" y="127.7">B</text>
</g>
<g font-size="43" font-style="italic" fill="#000" stroke="#000" stroke-width="0.6"><text x="737" y="281">C</text><text x="890.5" y="261">C</text></g>
<path d="M777.3,252.6 L781.6,252.6 L775.8,265 L773,265 Z" fill="#000"/>
<g font-size="42" fill="#000">
<text x="636.5" y="986.5">&#916;</text>
<text x="771" y="986.5">&#916;</text>
<text x="863.5" y="988">&#916;</text>
</g>
<text transform="translate(669.5,994) scale(0.76,1)" font-size="32" font-weight="bold">u</text>
<path d="M799.5,959.2 L803.8,959.2 L800.8,971.5 L797.5,971.5 Z" fill="#000"/>
<text x="800.5" y="995.5" font-size="24">85%</text>
<text x="894" y="995" font-size="24">85%</text>
<line x1="961.4" y1="130.2" x2="1080.5" y2="130.2" stroke="#00ff00" stroke-width="4.6"/>
<line x1="961.4" y1="195.7" x2="1080.5" y2="195.7" stroke="#ff0000" stroke-width="4.4" stroke-dasharray="26.8 9.5 7 10.5"/>
<g font-size="52" font-weight="bold" font-style="italic" fill="#000">
<text x="1088" y="148">SCS wall</text>
<text x="1089" y="212">SDC wall</text>
<text x="719" y="1055">&#916; (mm)</text>
<text transform="translate(72.7,540) rotate(-90)">P (kN)</text>
</g>
</svg>
</body></html>
